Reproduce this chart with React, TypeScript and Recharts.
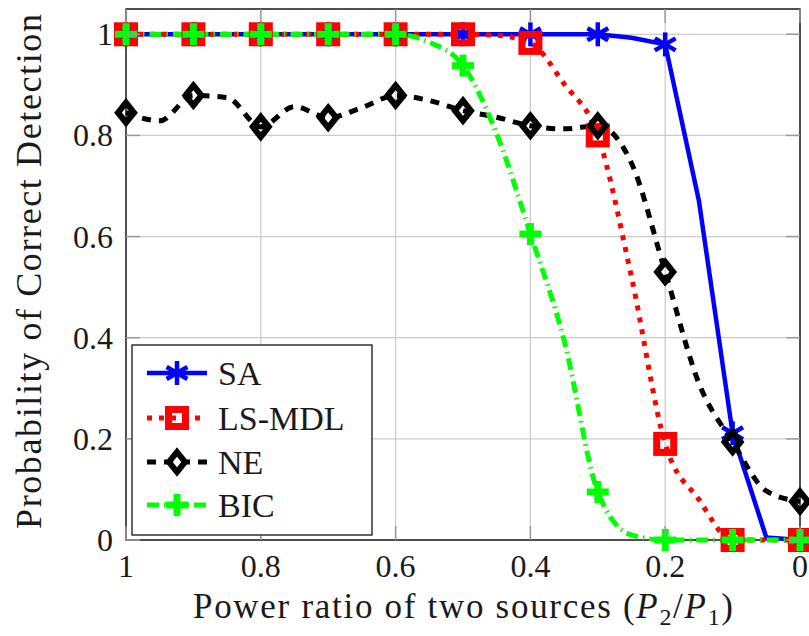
import React from "react";
import { CartesianGrid, Legend, Line, LineChart, ReferenceArea, XAxis, YAxis } from "recharts";

// power ratio P2/P1, sampled every 0.05 (markers every 0.1)
const ratios = [1, 0.95, 0.9, 0.85, 0.8, 0.75, 0.7, 0.65, 0.6, 0.55, 0.5, 0.45, 0.4, 0.35, 0.3, 0.25, 0.2, 0.15, 0.1, 0.05, 0];
const saValues = [1, 1, 1, 1, 1, 1, 1, 1, 1, 1, 1, 1, 1, 1, 1, 0.993, 0.98, 0.671, 0.211, 0.005, 0];
const lsMdlValues = [1, 1, 1, 1, 1, 1, 1, 1, 1, 1, 1, 0.998, 0.983, 0.902, 0.8, 0.52, 0.19, 0.08, 0, 0, 0];
const neValues = [0.845, 0.829, 0.879, 0.875, 0.817, 0.857, 0.835, 0.855, 0.879, 0.869, 0.849, 0.836, 0.819, 0.813, 0.819, 0.745, 0.53, 0.31, 0.194, 0.097, 0.076];
const bicValues = [1, 1, 1, 1, 1, 1, 1, 1, 1, 0.984, 0.938, 0.803, 0.605, 0.395, 0.095, 0.01, 0, 0, 0, 0, 0];

const xTicks = [0, 0.2, 0.4, 0.6, 0.8, 1];
const yTicks = [0, 0.2, 0.4, 0.6, 0.8, 1];

const data = ratios.map((ratio, i) => ({
  ratio,
  sa: saValues[i],
  lsmdl: lsMdlValues[i],
  ne: neValues[i],
  bic: bicValues[i]
}));

const WIDTH = 809;
const HEIGHT = 636;
const PLOT_LEFT = 126;
const PLOT_RIGHT = 800;
const PLOT_TOP = 9;
const PLOT_BOTTOM = 540;
const FONT = "Liberation Serif, DejaVu Serif, serif";
const TEXT = "#1a1a1a";
const TICK_MARK = "#9a9a9a";

type MarkKind = "asterisk" | "square" | "diamond" | "plus";

const series: { key: string; name: string; color: string; width: number; dash?: string; mark: MarkKind; curve: "linear" | "monotone" }[] = [
  { key: "sa", name: "SA", color: "#0000ff", width: 4.5, mark: "asterisk", curve: "linear" },
  { key: "lsmdl", name: "LS-MDL", color: "#ff0000", width: 5, dash: "5 7", mark: "square", curve: "monotone" },
  { key: "ne", name: "NE", color: "#000000", width: 5, dash: "9 8", mark: "diamond", curve: "monotone" },
  { key: "bic", name: "BIC", color: "#00ff00", width: 5, dash: "12 5 1.5 5", mark: "plus", curve: "monotone" }
];

function Mark({ kind, cx, cy, color }: { kind: MarkKind; cx: number; cy: number; color: string }) {
  if (kind === "asterisk") {
    const r = 12;
    const dx = r * Math.cos(Math.PI / 6);
    const dy = r * Math.sin(Math.PI / 6);
    return (
      <g stroke={color} strokeWidth={4.5}>
        <line x1={cx} y1={cy - r} x2={cx} y2={cy + r} />
        <line x1={cx - dx} y1={cy - dy} x2={cx + dx} y2={cy + dy} />
        <line x1={cx - dx} y1={cy + dy} x2={cx + dx} y2={cy - dy} />
      </g>
    );
  }
  if (kind === "square") {
    return <rect x={cx - 8.5} y={cy - 8.5} width={17} height={17} fill="none" stroke={color} strokeWidth={7} />;
  }
  if (kind === "diamond") {
    return (
      <path
        d={`M${cx},${cy - 10} L${cx + 8},${cy} L${cx},${cy + 10} L${cx - 8},${cy} Z`}
        fill="none"
        stroke={color}
        strokeWidth={6}
        strokeLinejoin="miter"
      />
    );
  }
  return (
    <g stroke={color} strokeWidth={7}>
      <line x1={cx - 11} y1={cy} x2={cx + 11} y2={cy} />
      <line x1={cx} y1={cy - 11} x2={cx} y2={cy + 11} />
    </g>
  );
}

// marks only on every other sample (0.1 steps)
function makeDot(kind: MarkKind, color: string) {
  return (props: any) => {
    const { cx, cy, index } = props;
    if (index % 2 !== 0 || cx == null || cy == null) {
      return <g key={`d-${kind}-${index}`} />;
    }
    return (
      <g key={`d-${kind}-${index}`}>
        <Mark kind={kind} cx={cx} cy={cy} color={color} />
      </g>
    );
  };
}

function YTick(props: any) {
  const { y, payload } = props;
  return (
    <g>
      <line x1={PLOT_LEFT} x2={PLOT_LEFT + 14} y1={y} y2={y} stroke={TICK_MARK} strokeWidth={1.5} />
      <line x1={PLOT_RIGHT - 14} x2={PLOT_RIGHT} y1={y} y2={y} stroke={TICK_MARK} strokeWidth={1.5} />
      <text x={PLOT_LEFT - 13} y={y + 11} textAnchor="end" style={{ fontFamily: FONT, fontSize: 32 }} fill={TEXT}>
        {String(payload.value)}
      </text>
    </g>
  );
}

function XTick(props: any) {
  const { x, payload } = props;
  return (
    <g>
      <line x1={x} x2={x} y1={PLOT_BOTTOM} y2={PLOT_BOTTOM - 14} stroke={TICK_MARK} strokeWidth={1.5} />
      <line x1={x} x2={x} y1={PLOT_TOP} y2={PLOT_TOP + 14} stroke={TICK_MARK} strokeWidth={1.5} />
      <text x={x} y={PLOT_BOTTOM + 37} textAnchor="middle" style={{ fontFamily: FONT, fontSize: 32 }} fill={TEXT}>
        {String(payload.value)}
      </text>
    </g>
  );
}

function XTitle(props: any) {
  const { viewBox } = props;
  const cx = viewBox.x + viewBox.width / 2;
  return (
    <text x={cx} y={618} textAnchor="middle" style={{ fontFamily: FONT, fontSize: 35 }} fill={TEXT} textLength={540} lengthAdjust="spacing">
      Power ratio of two sources (<tspan fontStyle="italic">P</tspan>
      <tspan fontSize={24} dy={7}>2</tspan>
      <tspan dy={-7}>/</tspan>
      <tspan fontStyle="italic">P</tspan>
      <tspan fontSize={24} dy={7}>1</tspan>
      <tspan dy={-7}>)</tspan>
    </text>
  );
}

function YTitle(props: any) {
  const { viewBox } = props;
  const cy = viewBox.y + viewBox.height / 2 - 3;
  return (
    <text
      x={41}
      y={cy}
      transform={`rotate(-90, 41, ${cy})`}
      textAnchor="middle"
      style={{ fontFamily: FONT, fontSize: 36 }}
      fill={TEXT}
      textLength={515}
      lengthAdjust="spacing"
    >
      Probability of Correct Detection
    </text>
  );
}

function LegendBox() {
  const rowY = [29, 74, 118, 161];
  return (
    <svg width={242} height={192} style={{ display: "block" }}>
      <rect x={1} y={1} width={240} height={190} fill="#ffffff" stroke="#333333" strokeWidth={1.5} />
      {series.map((s, i) => (
        <g key={s.key}>
          <line x1={16} x2={76} y1={rowY[i]} y2={rowY[i]} stroke={s.color} strokeWidth={s.width} strokeDasharray={s.dash} />
          <Mark kind={s.mark} cx={46} cy={rowY[i]} color={s.color} />
          <text x={87} y={rowY[i] + 12} style={{ fontFamily: FONT, fontSize: 34 }} fill={TEXT}>
            {s.name}
          </text>
        </g>
      ))}
    </svg>
  );
}

export default function App() {
  return (
    <div style={{ position: "absolute", left: 0, top: 0, width: WIDTH, height: HEIGHT, background: "#ffffff" }}>
      <LineChart width={WIDTH} height={HEIGHT} data={data} margin={{ top: PLOT_TOP, right: WIDTH - PLOT_RIGHT, bottom: 0, left: 0 }}>
        <CartesianGrid stroke="#cccccc" strokeWidth={1.3} />
        <XAxis
          dataKey="ratio"
          type="number"
          domain={[0, 1]}
          reversed
          ticks={xTicks}
          height={HEIGHT - PLOT_BOTTOM}
          axisLine={false}
          tickLine={false}
          tick={<XTick />}
          label={<XTitle />}
        />
        <YAxis
          type="number"
          domain={[0, 1.05]}
          ticks={yTicks}
          width={PLOT_LEFT}
          axisLine={false}
          tickLine={false}
          tick={<YTick />}
          label={<YTitle />}
        />
        <ReferenceArea x1={1} x2={0} y1={0} y2={1.05} fill="none" stroke="#222222" strokeWidth={1.5} />
        {series.map((s) => (
          <Line
            key={s.key}
            dataKey={s.key}
            name={s.name}
            type={s.curve}
            stroke={s.color}
            strokeWidth={s.width}
            strokeDasharray={s.dash}
            dot={makeDot(s.mark, s.color)}
            activeDot={false}
            isAnimationActive={false}
          />
        ))}
        {/* horizontal + middle + center keeps the legend from reserving chart space */}
        <Legend
          layout="horizontal"
          verticalAlign="middle"
          align="center"
          content={<LegendBox />}
          wrapperStyle={{ position: "absolute", left: 131, top: 344, width: 242, height: 192 }}
        />
      </LineChart>
    </div>
  );
}
